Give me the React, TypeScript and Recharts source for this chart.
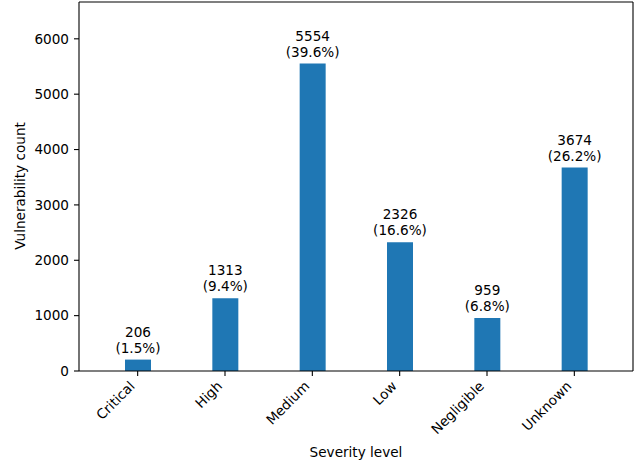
import { Bar, BarChart, LabelList, XAxis, YAxis } from 'recharts';

const severities = ['Critical', 'High', 'Medium', 'Low', 'Negligible', 'Unknown'];
const counts = [206, 1313, 5554, 2326, 959, 3674];
const yTicks = [0, 1000, 2000, 3000, 4000, 5000, 6000];

const total = counts.reduce((a, b) => a + b, 0);
const data = severities.map((name, i) => ({
  name,
  count: counts[i],
  pct: ((counts[i] / total) * 100).toFixed(1),
}));

const FONT = 'DejaVu Sans, sans-serif';
const FS = 13.6;

function RotatedTick({ x, y, payload }: any) {
  return (
    <g transform={`translate(${x - 2},${y + 11})`}>
      <text transform="rotate(-45)" textAnchor="end" fontFamily={FONT} fontSize={FS} fill="#000">
        {payload.value}
      </text>
    </g>
  );
}

function BarLabel({ x, y, width, index }: any) {
  const d = data[index];
  const cx = x + width / 2;
  return (
    <text textAnchor="middle" fontFamily={FONT} fontSize={FS} fill="#000">
      <tspan x={cx} y={y - 23}>{d.count}</tspan>
      <tspan x={cx} y={y - 7}>({d.pct}%)</tspan>
    </text>
  );
}

export default function App() {
  return (
    <div style={{ position: 'absolute', left: 0, top: 0, width: 638, height: 466, background: '#fff' }}>
      <BarChart
        width={638}
        height={466}
        data={data}
        margin={{ top: 1, right: 4, bottom: 0, left: 0 }}
      >
        <XAxis
          dataKey="name"
          height={95}
          padding={{ left: 15, right: 15 }}
          tickSize={5}
          tickMargin={0}
          tick={<RotatedTick />}
          interval={0}
          stroke="#000"
          axisLine={{ stroke: '#000', strokeWidth: 1.1 }}
          tickLine={{ stroke: '#000', strokeWidth: 1.1 }}
          label={{
            content: () => (
              <text x={356} y={457} textAnchor="middle" fontFamily={FONT} fontSize={FS} fill="#000">
                Severity level
              </text>
            ),
          }}
        />
        <XAxis
          xAxisId="top"
          dataKey="name"
          orientation="top"
          height={1}
          tick={false}
          tickLine={false}
          axisLine={{ stroke: '#000', strokeWidth: 1.1 }}
        />
        <YAxis
          width={79}
          domain={[0, 6665]}
          ticks={yTicks}
          allowDataOverflow
          tickSize={5}
          tickMargin={5}
          tick={{ fontFamily: FONT, fontSize: FS, fill: '#000' }}
          axisLine={{ stroke: '#000', strokeWidth: 1.1 }}
          tickLine={{ stroke: '#000', strokeWidth: 1.1 }}
          label={{
            content: () => (
              <text
                x={25}
                y={186}
                transform="rotate(-90, 25, 186)"
                textAnchor="middle"
                fontFamily={FONT}
                fontSize={FS}
                fill="#000"
              >
                Vulnerability count
              </text>
            ),
          }}
        />
        <YAxis
          yAxisId="right"
          orientation="right"
          width={1}
          tick={false}
          tickLine={false}
          axisLine={{ stroke: '#000', strokeWidth: 1.1 }}
        />
        <Bar dataKey="count" fill="#1f77b4" barSize={26} isAnimationActive={false}>
          <LabelList dataKey="count" content={<BarLabel />} />
        </Bar>
      </BarChart>
    </div>
  );
}
